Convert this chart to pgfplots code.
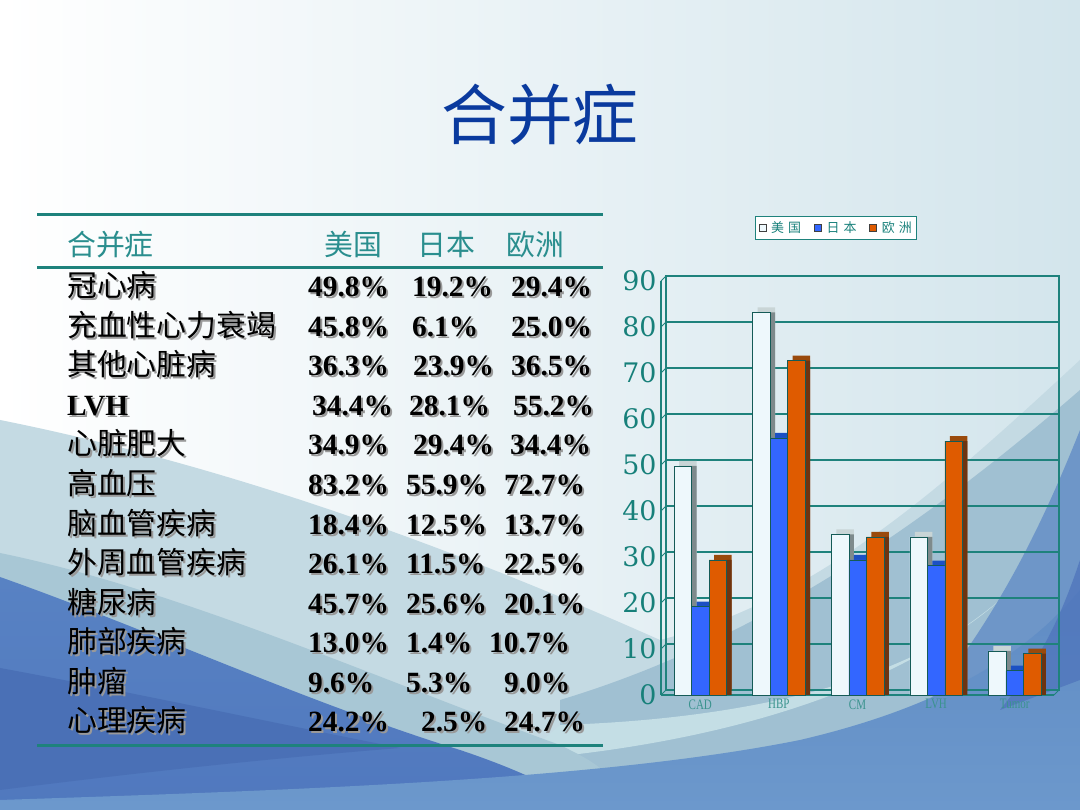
\documentclass[border=0pt]{standalone}
\usepackage{pgfplots}
\pgfplotsset{compat=1.18}
\usepackage{fontspec}
\setmainfont{Liberation Serif}
\newfontfamily\cjk{Noto Sans CJK SC}
\newfontfamily\tickfont{DejaVu Serif}
\definecolor{tline}{HTML}{1E827C}
\definecolor{ttext}{HTML}{2A8E8E}
\definecolor{tickc}{HTML}{17807A}
\definecolor{titlec}{HTML}{0A3A9E}
\definecolor{usf}{HTML}{EEF8FC}
\definecolor{ust}{HTML}{C9D5D6}
\definecolor{uss}{HTML}{7E8A8C}
\definecolor{jpf}{HTML}{3366FF}
\definecolor{jpt}{HTML}{1B50C4}
\definecolor{jps}{HTML}{1E45B5}
\definecolor{euf}{HTML}{DF5B00}
\definecolor{eut}{HTML}{9A4A0C}
\definecolor{eus}{HTML}{6E3410}
\definecolor{bgA}{HTML}{D3E5EC}
\newcommand{\rowname}[2]{%
 \node[anchor=base west,inner sep=0,text=black!40] at (69,#1-2) {\cjk\fontsize{30}{30}\selectfont #2};
 \node[anchor=base west,inner sep=0,text=black] at (67,#1) {\cjk\fontsize{30}{30}\selectfont #2};}
\newcommand{\num}[3]{%
 \node[anchor=base west,inner sep=0,text=black!40] at (#1+2,#2-2) {\fontsize{29.5}{30}\selectfont\bfseries #3};
 \node[anchor=base west,inner sep=0,text=black] at (#1,#2) {\fontsize{29.5}{30}\selectfont\bfseries #3};}
\pgfplotsset{lg/.style={legend image code/.code={\draw[##1,draw=black!75,line width=0.5bp] (0bp,-3.5bp) rectangle (7bp,3.5bp);}}}
\begin{document}
\begin{tikzpicture}[x=1bp,y=1bp]
\useasboundingbox (0,0) rectangle (1080,810);
% background (pixel coords y measured from top: y = 810 - py)
\begin{scope}[yscale=-1,yshift=-810bp]
\clip (0,0) rectangle (1080,810);
\shade[left color=white,right color=bgA] (0,0) rectangle (1080,810);
\fill[fill={rgb,255:red,196;green,218;blue,227}] (0,420) .. controls (250,470) and (480,560) .. (660,640) .. controls (820,600) and (950,480) .. (1080,360) -- (1080,810) -- (0,810) -- cycle;
\fill[fill={rgb,255:red,160;green,192;blue,210}] (560,700) .. controls (760,640) and (930,520) .. (1080,390) -- (1080,810) -- (560,810) -- cycle;
\fill[fill={rgb,255:red,196;green,222;blue,229}] (520,760) .. controls (700,745) and (880,700) .. (1000,600) .. controls (900,690) and (720,720) .. (560,725) -- cycle;
\fill[fill={rgb,255:red,110;green,150;blue,200}] (1080,430) .. controls (1040,530) and (1000,610) .. (930,700) -- (1080,700) -- cycle;
\fill[fill={rgb,255:red,168;green,199;blue,213}] (0,553) .. controls (180,590) and (380,680) .. (560,745) .. controls (600,765) .. (640,810) -- (0,810) -- cycle;
\shade[top color={rgb,255:red,88;green,130;blue,195},bottom color={rgb,255:red,80;green,120;blue,190}] (0,577) .. controls (150,630) and (300,700) .. (460,750) .. controls (520,770) and (560,790) .. (590,810) -- (0,810) -- cycle;
\fill[fill={rgb,255:red,74;green,112;blue,182}] (0,668) .. controls (120,690) and (260,720) .. (400,748) .. controls (250,760) and (120,775) .. (0,790) -- cycle;
\shade[top color={rgb,255:red,96;green,140;blue,196},bottom color={rgb,255:red,108;green,152;blue,204}] (0,800) .. controls (300,790) and (600,780) .. (800,740) .. controls (950,705) and (1030,650) .. (1080,590) -- (1080,810) -- (0,810) -- cycle;
\fill[fill={rgb,255:red,80;green,118;blue,188},opacity=0.8] (1080,560) .. controls (1060,620) and (1040,660) .. (1000,710) -- (1080,680) -- cycle;
\end{scope}
% title
\node[anchor=base,inner sep=0,text=titlec] at (540,670) {\cjk\fontsize{66}{66}\selectfont 合并症};
% table rules
\draw[tline,line width=3bp] (37,595) -- (603,595);
\draw[tline,line width=3bp] (37,542) -- (603,542);
\draw[tline,line width=3bp] (37,64) -- (603,64);
% header
\begin{scope}[every node/.style={anchor=base west,inner sep=0,text=ttext,font=\cjk\fontsize{29}{29}\selectfont}]
\node at (67,554) {合并症};
\node at (324,554) {美国};
\node at (417,554) {日本};
\node at (506,554) {欧洲};
\end{scope}
% rows
\rowname{513}{冠心病}
\num{308}{513}{49.8\%}\num{412}{513}{19.2\%}\num{511}{513}{29.4\%}
\rowname{473.5}{充血性心力衰竭}
\num{308}{473.5}{45.8\%}\num{412}{473.5}{6.1\%}\num{511}{473.5}{25.0\%}
\rowname{434}{其他心脏病}
\num{308}{434}{36.3\%}\num{413}{434}{23.9\%}\num{511}{434}{36.5\%}
\node[anchor=base west,inner sep=0,text=black!40] at (69,392.3) {\fontsize{29.5}{30}\selectfont\bfseries LVH};
\node[anchor=base west,inner sep=0] at (67,394.3) {\fontsize{29.5}{30}\selectfont\bfseries LVH};
\num{312}{394.3}{34.4\%}\num{409}{394.3}{28.1\%}\num{513}{394.3}{55.2\%}
\rowname{355}{心脏肥大}
\num{308}{355}{34.9\%}\num{413}{355}{29.4\%}\num{510}{355}{34.4\%}
\rowname{315.2}{高血压}
\num{308}{315.2}{83.2\%}\num{406}{315.2}{55.9\%}\num{504}{315.2}{72.7\%}
\rowname{275.7}{脑血管疾病}
\num{308}{275.7}{18.4\%}\num{406}{275.7}{12.5\%}\num{504}{275.7}{13.7\%}
\rowname{236.1}{外周血管疾病}
\num{308}{236.1}{26.1\%}\num{406}{236.1}{11.5\%}\num{504}{236.1}{22.5\%}
\rowname{196.6}{糖尿病}
\num{308}{196.6}{45.7\%}\num{406}{196.6}{25.6\%}\num{504}{196.6}{20.1\%}
\rowname{157}{肺部疾病}
\num{308}{157}{13.0\%}\num{406}{157}{1.4\%}\num{489}{157}{10.7\%}
\rowname{117.5}{肿瘤}
\num{308}{117.5}{9.6\%}\num{406}{117.5}{5.3\%}\num{504}{117.5}{9.0\%}
\rowname{78}{心理疾病}
\num{308}{78}{24.2\%}\num{421}{78}{2.5\%}\num{504}{78}{24.7\%}
% back wall
\begin{axis}[at={(666bp,120bp)},anchor=south west,scale only axis,
 width=393bp,height=414bp,xmin=-0.5,xmax=4.5,ymin=0,ymax=90,
 ytick={0,10,...,90},xtick=\empty,yticklabels={},ymajorgrids,
 grid style={tline,line width=1.1bp},axis line style={tline,line width=1.1bp},
 major tick length=0pt]
\end{axis}
% main axis
\begin{axis}[at={(661bp,115bp)},anchor=south west,scale only axis,
 width=393bp,height=414bp,xmin=-0.5,xmax=4.5,ymin=0,ymax=90,
 ytick={0,10,...,90},xtick={0,...,4},xticklabels={CAD,HBP,CM,LVH,Tumor},
 axis x line*=bottom,axis y line*=left,axis line style={tline,line width=1.1bp,-},
 major tick length=0pt,clip=false,
 /pgf/number format/assume math mode=true,
 yticklabel style={font=\tickfont\fontsize{27}{27}\selectfont,text=tickc,xshift=-1bp},
 xticklabel style={font=\fontsize{14.5}{14.5}\selectfont,text=tickc!85,xscale=0.76,yshift=-1bp},
 ybar,bar width=17.5bp,
 legend style={at={(axis description cs:0.446,1.128)},anchor=center,draw=tline,
  fill=white,line width=0.9bp,inner xsep=3bp,inner ysep=3bp,
  font=\cjk\fontsize{13}{13}\selectfont,text=tickc,
  /tikz/every even column/.append style={column sep=11bp}},
 legend columns=3]
\addplot[ybar,bar shift=-17.5bp,fill=ust,draw=none,xshift=5bp,yshift=5bp,forget plot]
 coordinates {(0,49.8) (1,83.2) (2,34.9) (3,34.4) (4,9.6)};
\addplot[ybar,bar shift=-17.5bp,fill=uss,draw=none,xshift=5bp,forget plot]
 coordinates {(0,49.8) (1,83.2) (2,34.9) (3,34.4) (4,9.6)};
\addplot[ybar,bar shift=-17.5bp,fill=usf,draw=tline!70!black,line width=0.5bp,lg]
 coordinates {(0,49.8) (1,83.2) (2,34.9) (3,34.4) (4,9.6)};
\addplot[ybar,bar shift=0bp,fill=jpt,draw=none,xshift=5bp,yshift=5bp,forget plot]
 coordinates {(0,19.2) (1,55.9) (2,29.4) (3,28.1) (4,5.3)};
\addplot[ybar,bar shift=0bp,fill=jps,draw=none,xshift=5bp,forget plot]
 coordinates {(0,19.2) (1,55.9) (2,29.4) (3,28.1) (4,5.3)};
\addplot[ybar,bar shift=0bp,fill=jpf,draw=tline!70!black,line width=0.5bp,lg]
 coordinates {(0,19.2) (1,55.9) (2,29.4) (3,28.1) (4,5.3)};
\addplot[ybar,bar shift=17.5bp,fill=eut,draw=none,xshift=5bp,yshift=5bp,forget plot]
 coordinates {(0,29.4) (1,72.7) (2,34.4) (3,55.2) (4,9.0)};
\addplot[ybar,bar shift=17.5bp,fill=eus,draw=none,xshift=5bp,forget plot]
 coordinates {(0,29.4) (1,72.7) (2,34.4) (3,55.2) (4,9.0)};
\addplot[ybar,bar shift=17.5bp,fill=euf,draw=tline!70!black,line width=0.5bp,lg]
 coordinates {(0,29.4) (1,72.7) (2,34.4) (3,55.2) (4,9.0)};
\legend{\hspace{3bp}美\hspace{4bp}国,\hspace{3bp}日\hspace{4bp}本,\hspace{3bp}欧\hspace{4bp}洲}
\pgfplotsinvokeforeach{0,10,...,90}{\draw[tline,line width=1bp] (axis cs:-0.5,#1) -- ++(5bp,5bp);}
\draw[tline,line width=1bp] (axis cs:4.5,0) -- ++(5bp,5bp);
\end{axis}
\end{tikzpicture}
\end{document}
